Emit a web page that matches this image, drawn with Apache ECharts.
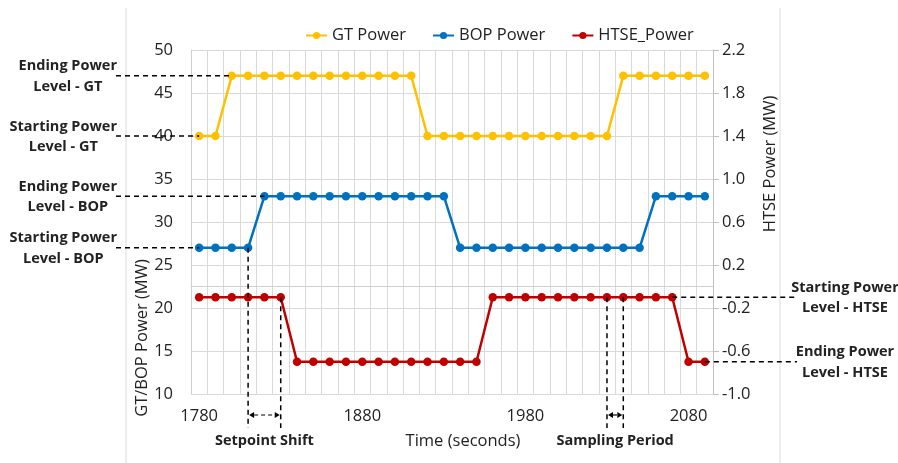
<!DOCTYPE html>
<html><head><meta charset="utf-8">
<script src="https://cdn.jsdelivr.net/npm/echarts@6/dist/echarts.min.js"></script>
<style>html,body{margin:0;padding:0;background:#fff}#c{width:898px;height:463px}</style>
</head><body><div id="c"></div>
<script>
// ---- data ----
const times = ['1780','1790','1800','1810','1820','1830','1840','1850','1860','1870',
               '1880','1890','1900','1910','1920','1930','1940','1950','1960','1970',
               '1980','1990','2000','2010','2020','2030','2040','2050','2060','2070',
               '2080','2090'];
const gtPower   = [40,40,47,47,47,47,47,47,47,47,47,47,47,47,40,40,40,40,40,40,40,40,40,40,40,40,47,47,47,47,47,47];
const bopPower  = [27,27,27,27,33,33,33,33,33,33,33,33,33,33,33,33,27,27,27,27,27,27,27,27,27,27,27,27,33,33,33,33];
const htsePower = [-0.1,-0.1,-0.1,-0.1,-0.1,-0.1,-0.7,-0.7,-0.7,-0.7,-0.7,-0.7,-0.7,-0.7,-0.7,-0.7,-0.7,-0.7,
                   -0.1,-0.1,-0.1,-0.1,-0.1,-0.1,-0.1,-0.1,-0.1,-0.1,-0.1,-0.1,-0.7,-0.7];
const seriesNames = ['GT Power','BOP Power','HTSE_Power'];
const leftAxisRange  = [10, 50, 5];
const rightAxisRange = [-1.0, 2.2, 0.4];

// annotations (tied to data points)
const levelNotes = [
  {lines:['Ending Power','Level - GT'],    data:'gt',   idx:2,  side:'left'},
  {lines:['Starting Power','Level - GT'],  data:'gt',   idx:0,  side:'left'},
  {lines:['Ending Power','Level - BOP'],   data:'bop',  idx:4,  side:'left'},
  {lines:['Starting Power','Level - BOP'], data:'bop',  idx:0,  side:'left'},
  {lines:['Starting Power','Level - HTSE'],data:'htse', idx:29, side:'right'},
  {lines:['Ending Power','Level - HTSE'],  data:'htse', idx:31, side:'right'}
];
const spanNotes = [
  {label:'Setpoint Shift',  a:{data:'bop', idx:3},  b:{data:'htse', idx:5}},
  {label:'Sampling Period', a:{data:'htse', idx:25}, b:{data:'htse', idx:26}}
];

const FONT = '"Open Sans", "Noto Sans", sans-serif';
const TXT = '#222';
const chart = echarts.init(document.getElementById('c'), null, {renderer:'canvas'});

chart.setOption({
  animation:false,
  backgroundColor:'#fff',
  textStyle:{fontFamily:FONT},
  legend:{
    data:seriesNames, left:300, top:22, itemGap:26, itemWidth:21, itemHeight:9,
    textStyle:{fontSize:16.5, color:TXT, fontFamily:FONT}
  },
  grid:{left:191, right:185, top:50, bottom:69, containLabel:false},
  xAxis:{
    type:'category', data:times, boundaryGap:true,
    axisLine:{lineStyle:{color:'#cfcfcf', width:1}},
    axisTick:{show:false},
    axisLabel:{interval:9, fontSize:16.5, color:TXT, margin:14, fontFamily:FONT},
    splitLine:{show:true, interval:0, lineStyle:{color:'#d9d9d9', width:1}}
  },
  yAxis:[
    {type:'value', min:leftAxisRange[0], max:leftAxisRange[1], interval:leftAxisRange[2],
     axisLine:{show:true, lineStyle:{color:'#cfcfcf'}}, axisTick:{show:false},
     axisLabel:{fontSize:16.5, color:TXT, margin:18, fontFamily:FONT},
     splitLine:{lineStyle:{color:'#d9d9d9', width:1}}},
    {type:'value', position:'right', min:rightAxisRange[0], max:rightAxisRange[1], interval:rightAxisRange[2],
     axisLine:{show:true, lineStyle:{color:'#bfbfbf'}},
     axisTick:{show:true, length:6, lineStyle:{color:'#bfbfbf'}},
     axisLabel:{fontSize:16.5, color:TXT, margin:9, fontFamily:FONT, formatter:v=>v.toFixed(1)},
     splitLine:{show:false}}
  ],
  series:[
    {name:seriesNames[0], type:'line', data:gtPower, yAxisIndex:0, symbol:'circle', symbolSize:8.5,
     itemStyle:{color:'#FFC000'}, lineStyle:{color:'#FFC000', width:2.5}, z:3},
    {name:seriesNames[1], type:'line', data:bopPower, yAxisIndex:0, symbol:'circle', symbolSize:8.5,
     itemStyle:{color:'#0070C0'}, lineStyle:{color:'#0070C0', width:2.5}, z:3},
    {name:seriesNames[2], type:'line', data:htsePower, yAxisIndex:1, symbol:'circle', symbolSize:8.5,
     itemStyle:{color:'#C00000'}, lineStyle:{color:'#C00000', width:2.5}, z:3}
  ]
});

// ---- annotations computed from data through the axes ----
const dataMap = {gt:[gtPower,1], bop:[bopPower,1], htse:[htsePower,2]};
function px(ref){
  const [arr, ax] = dataMap[ref.data];
  const finder = ax === 1 ? {xAxisIndex:0, yAxisIndex:0} : {xAxisIndex:0, yAxisIndex:1};
  return chart.convertToPixel(finder, [times[ref.idx], arr[ref.idx]]);
}
const ctx = document.createElement('canvas').getContext('2d');
const BOLD = 'bold 14.5px ' + FONT;
ctx.font = BOLD;
const dash = {stroke:'#000', lineWidth:1.5, lineDash:[5,4]};
const g = [];
const LEFT_END = 116, RIGHT_END = 797, RIGHT_CENTER = 845;
levelNotes.forEach(n => {
  const p = px(n);
  const y = p[1];
  if (n.side === 'left') {
    g.push({type:'line', shape:{x1:LEFT_END, y1:y, x2:p[0], y2:y}, style:dash, z:10});
    const w = Math.max(...n.lines.map(l => ctx.measureText(l).width));
    const cx = LEFT_END + 1 - w/2;
    g.push({type:'text', x:cx, y:y-9.5, style:{text:n.lines[0], font:BOLD, fill:TXT, align:'center', verticalAlign:'middle'}, z:11});
    g.push({type:'text', x:cx, y:y+11,  style:{text:n.lines[1], font:BOLD, fill:TXT, align:'center', verticalAlign:'middle'}, z:11});
  } else {
    g.push({type:'line', shape:{x1:p[0], y1:y, x2:RIGHT_END, y2:y}, style:dash, z:10});
    g.push({type:'text', x:RIGHT_CENTER, y:y-9.5, style:{text:n.lines[0], font:BOLD, fill:TXT, align:'center', verticalAlign:'middle'}, z:11});
    g.push({type:'text', x:RIGHT_CENTER, y:y+11,  style:{text:n.lines[1], font:BOLD, fill:TXT, align:'center', verticalAlign:'middle'}, z:11});
  }
});
const V_BOTTOM = 428, ARROW_Y = 415, LABEL_Y = 441;
spanNotes.forEach(s => {
  const pa = px(s.a), pb = px(s.b);
  g.push({type:'line', shape:{x1:pa[0], y1:pa[1], x2:pa[0], y2:V_BOTTOM}, style:dash, z:10});
  g.push({type:'line', shape:{x1:pb[0], y1:pb[1], x2:pb[0], y2:V_BOTTOM}, style:dash, z:10});
  const x1 = pa[0] + 1, x2 = pb[0] - 1, hl = 5, hh = 3;
  g.push({type:'polygon', shape:{points:[[x1,ARROW_Y],[x1+hl,ARROW_Y-hh],[x1+hl,ARROW_Y+hh]]}, style:{fill:'#000'}, z:10});
  g.push({type:'polygon', shape:{points:[[x2,ARROW_Y],[x2-hl,ARROW_Y-hh],[x2-hl,ARROW_Y+hh]]}, style:{fill:'#000'}, z:10});
  g.push({type:'line', shape:{x1:x1+hl, y1:ARROW_Y, x2:x2-hl, y2:ARROW_Y}, style:{stroke:'#000', lineWidth:1.2, lineDash:[4,3]}, z:10});
  g.push({type:'text', x:(pa[0]+pb[0])/2, y:LABEL_Y, style:{text:s.label, font:BOLD, fill:TXT, align:'center', verticalAlign:'middle'}, z:11});
});
// axis titles
g.push({type:'text', x:463, y:LABEL_Y, style:{text:'Time (seconds)', font:'16.5px '+FONT, fill:TXT, align:'center', verticalAlign:'middle'}, z:11});
g.push({type:'text', x:142, y:338, rotation:Math.PI/2, style:{text:'GT/BOP Power (MW)', font:'16.5px '+FONT, fill:TXT, align:'center', verticalAlign:'middle'}, z:11});
g.push({type:'text', x:770, y:164, rotation:Math.PI/2, style:{text:'HTSE Power (MW)', font:'16.5px '+FONT, fill:TXT, align:'center', verticalAlign:'middle'}, z:11});
// chart-area frame remnants
g.push({type:'line', shape:{x1:126, y1:8, x2:126, y2:463}, style:{stroke:'#d9d9d9', lineWidth:1}, z:1});
g.push({type:'line', shape:{x1:780, y1:8, x2:780, y2:463}, style:{stroke:'#d9d9d9', lineWidth:1}, z:1});
chart.setOption({graphic:{elements:g}});
</script></body></html>
